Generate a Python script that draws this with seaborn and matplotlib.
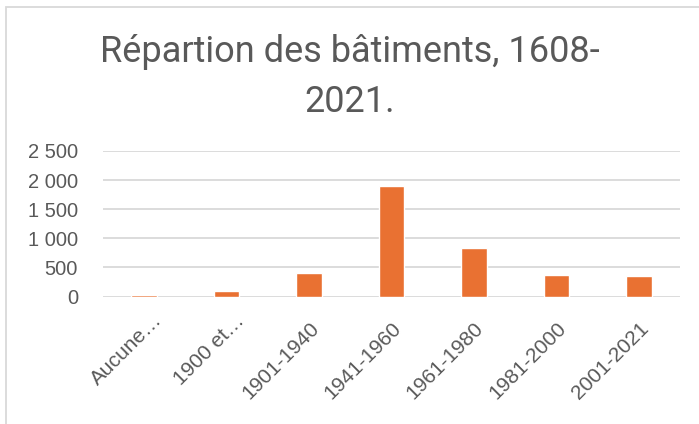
import matplotlib
matplotlib.use("Agg")
import matplotlib.pyplot as plt
import matplotlib.transforms as mtransforms
import seaborn as sns
import pandas as pd
from matplotlib.patches import Rectangle

categories = ["Aucune\u2026", "1900 et\u2026", "1901-1940", "1941-1960", "1961-1980", "1981-2000", "2001-2021"]
values = [30, 90, 400, 1905, 828, 373, 350]
yticks = [0, 500, 1000, 1500, 2000, 2500]
ytick_labels = ["0", "500", "1\u00a0000", "1\u00a0500", "2\u00a0000", "2\u00a0500"]
title = "Répartion des bâtiments, 1608-\n2021."

sns.set_theme(style="white")
plt.rcParams["font.family"] = ["Liberation Sans", "DejaVu Sans"]

df = pd.DataFrame({"cat": categories, "val": values})

W, H = 699, 424
fig = plt.figure(figsize=(W / 100, H / 100), dpi=100)
fig.patch.set_facecolor("white")
ax = fig.add_axes([103 / W, 1 - 296.5 / H, (680 - 103) / W, (296.5 - 151) / H])

sns.barplot(data=df, x="cat", y="val", color="#E97132", saturation=1, width=0.31, ax=ax)

ax.set_ylim(0, 2500)
ax.set_xlim(-0.5, len(categories) - 0.5)
ax.set_yticks(yticks)
ax.set_yticklabels(ytick_labels)
ax.yaxis.grid(True, color="#d9d9d9", linewidth=1.3)
ax.set_axisbelow(True)
for s in ax.spines.values():
    s.set_visible(False)
ax.set_xlabel("")
ax.set_ylabel("")
ax.tick_params(axis="y", length=0, pad=18, labelsize=14.5, labelcolor="#595959")
ax.tick_params(axis="x", length=0, pad=16, labelsize=15, labelcolor="#595959")
for i, lbl in enumerate(ax.get_xticklabels()):
    lbl.set_rotation(45)
    lbl.set_ha("right")
    lbl.set_va("top")
    lbl.set_rotation_mode("anchor")
    if i < 2:
        off = mtransforms.ScaledTranslation(8 / 100, 8 / 100, fig.dpi_scale_trans)
        lbl.set_transform(lbl.get_transform() + off)

fig.text(0.5, 1 - 77 / H, title, ha="center", va="center", fontsize=26,
         color="#595959", family=["Roboto", "DejaVu Sans"], linespacing=1.5)

fig.patches.append(Rectangle((6 / W, -0.1), 1.2, 1.1 - 7 / H, transform=fig.transFigure,
                             fill=False, edgecolor="#d9d9d9", linewidth=1.3))

fig.savefig("out.png", dpi=100, facecolor="white")
